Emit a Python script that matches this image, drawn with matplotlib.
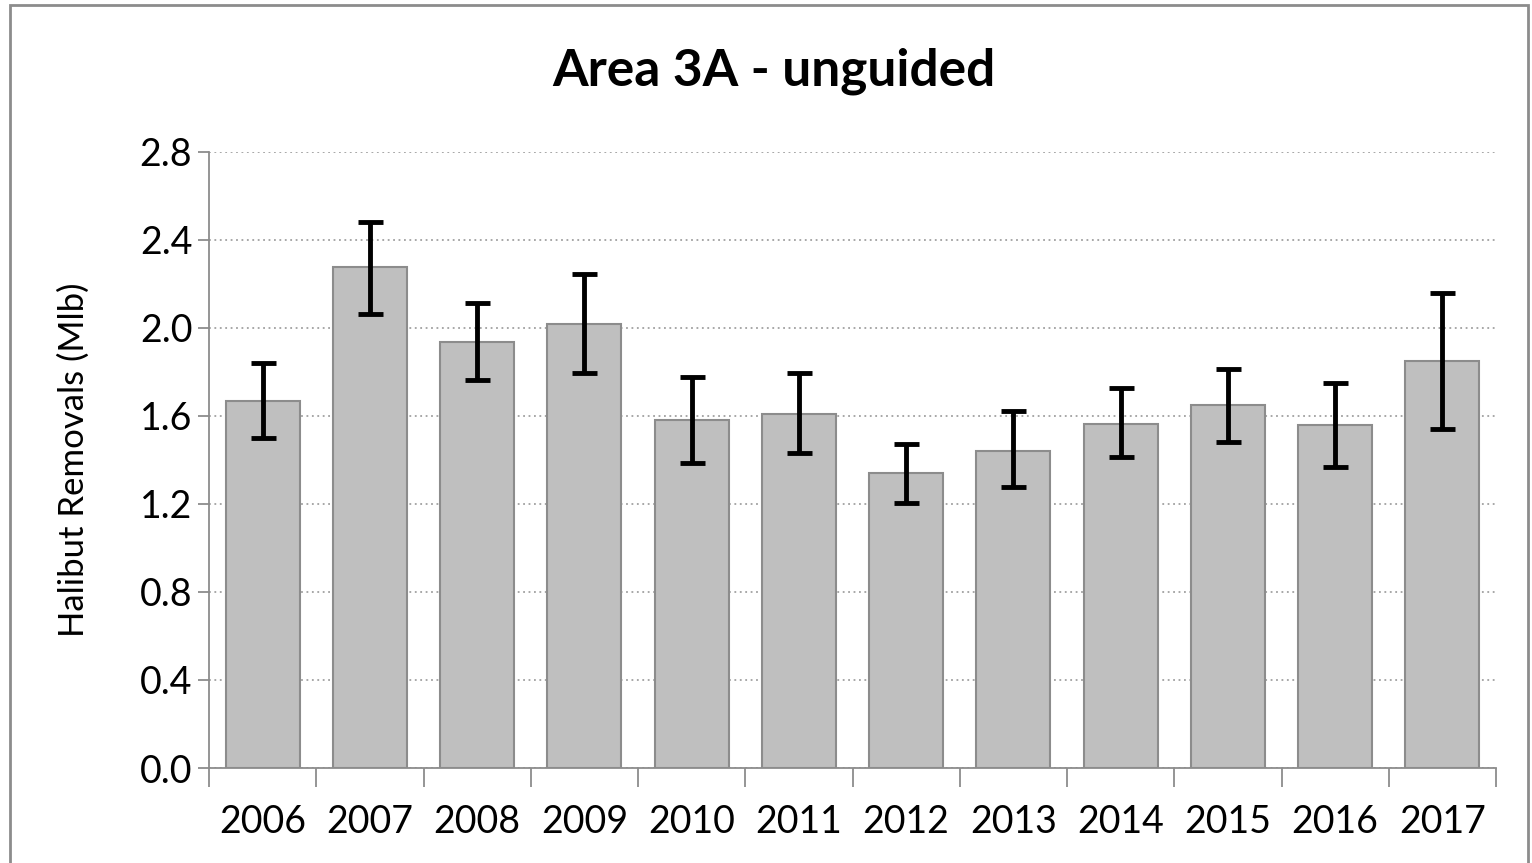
import matplotlib.pyplot as plt
from matplotlib.patches import Rectangle

plt.rcParams['font.family'] = ['Lato', 'DejaVu Sans']

anos = ['2006', '2007', '2008', '2009', '2010', '2011', '2012', '2013', '2014', '2015', '2016', '2017']
remocoes = [1.670, 2.277, 1.938, 2.017, 1.582, 1.608, 1.340, 1.443, 1.565, 1.652, 1.558, 1.852]
erro_sup = [1.840, 2.482, 2.115, 2.247, 1.777, 1.794, 1.474, 1.621, 1.726, 1.812, 1.752, 2.161]
erro_inf = [1.500, 2.065, 1.762, 1.795, 1.388, 1.430, 1.205, 1.275, 1.412, 1.484, 1.370, 1.543]

fig = plt.figure(figsize=(15.32, 8.63), dpi=100)
ax = fig.add_axes([209 / 1532, 1 - 768 / 863, (1496 - 209) / 1532, (768 - 152) / 863])

x = list(range(len(anos)))
yerr = [[r - lo for r, lo in zip(remocoes, erro_inf)],
        [hi - r for r, hi in zip(remocoes, erro_sup)]]
ax.bar(x, remocoes, width=0.69, color='#bfbfbf', edgecolor='#8c8c8c', linewidth=1.5, zorder=2)
ax.errorbar(x, remocoes, yerr=yerr, fmt='none', ecolor='black', elinewidth=3.5,
            capsize=9, capthick=3.5, zorder=3)

ax.set_xlim(-0.5, len(anos) - 0.5)
ax.set_ylim(0, 2.8)
ax.set_yticks([0.0, 0.4, 0.8, 1.2, 1.6, 2.0, 2.4, 2.8])
ax.set_yticklabels([f"{v:.1f}" for v in ax.get_yticks()], fontsize=27)
ax.yaxis.grid(True, linestyle=(0, (1, 2)), color='#a0a0a0', linewidth=1.3, zorder=0)
ax.set_axisbelow(True)

ax.set_xticks(x)
ax.set_xticklabels(anos, fontsize=27)
ax.tick_params(axis='x', length=0, pad=26)
ax.set_xticks([i - 0.5 for i in range(len(anos) + 1)], minor=True)
ax.tick_params(axis='x', which='minor', length=14, width=1.3, color='#8c8c8c')
ax.tick_params(axis='y', length=8, width=1.3, color='#8c8c8c', pad=4)

for lado in ['top', 'right']:
    ax.spines[lado].set_visible(False)
for lado in ['left', 'bottom']:
    ax.spines[lado].set_color('#8c8c8c')
    ax.spines[lado].set_linewidth(1.3)

ax.set_ylabel('Halibut Removals (Mlb)', fontsize=25, labelpad=36)
fig.text(0.505, 0.917, 'Area 3A - unguided', fontsize=37, fontweight='bold', ha='center', va='center')

fig.patches.append(Rectangle((10 / 1532, -0.05), 1518 / 1532, 1.044, transform=fig.transFigure,
                             fill=False, edgecolor='#8c8c8c', linewidth=2))

fig.savefig('out.png', dpi=100)
